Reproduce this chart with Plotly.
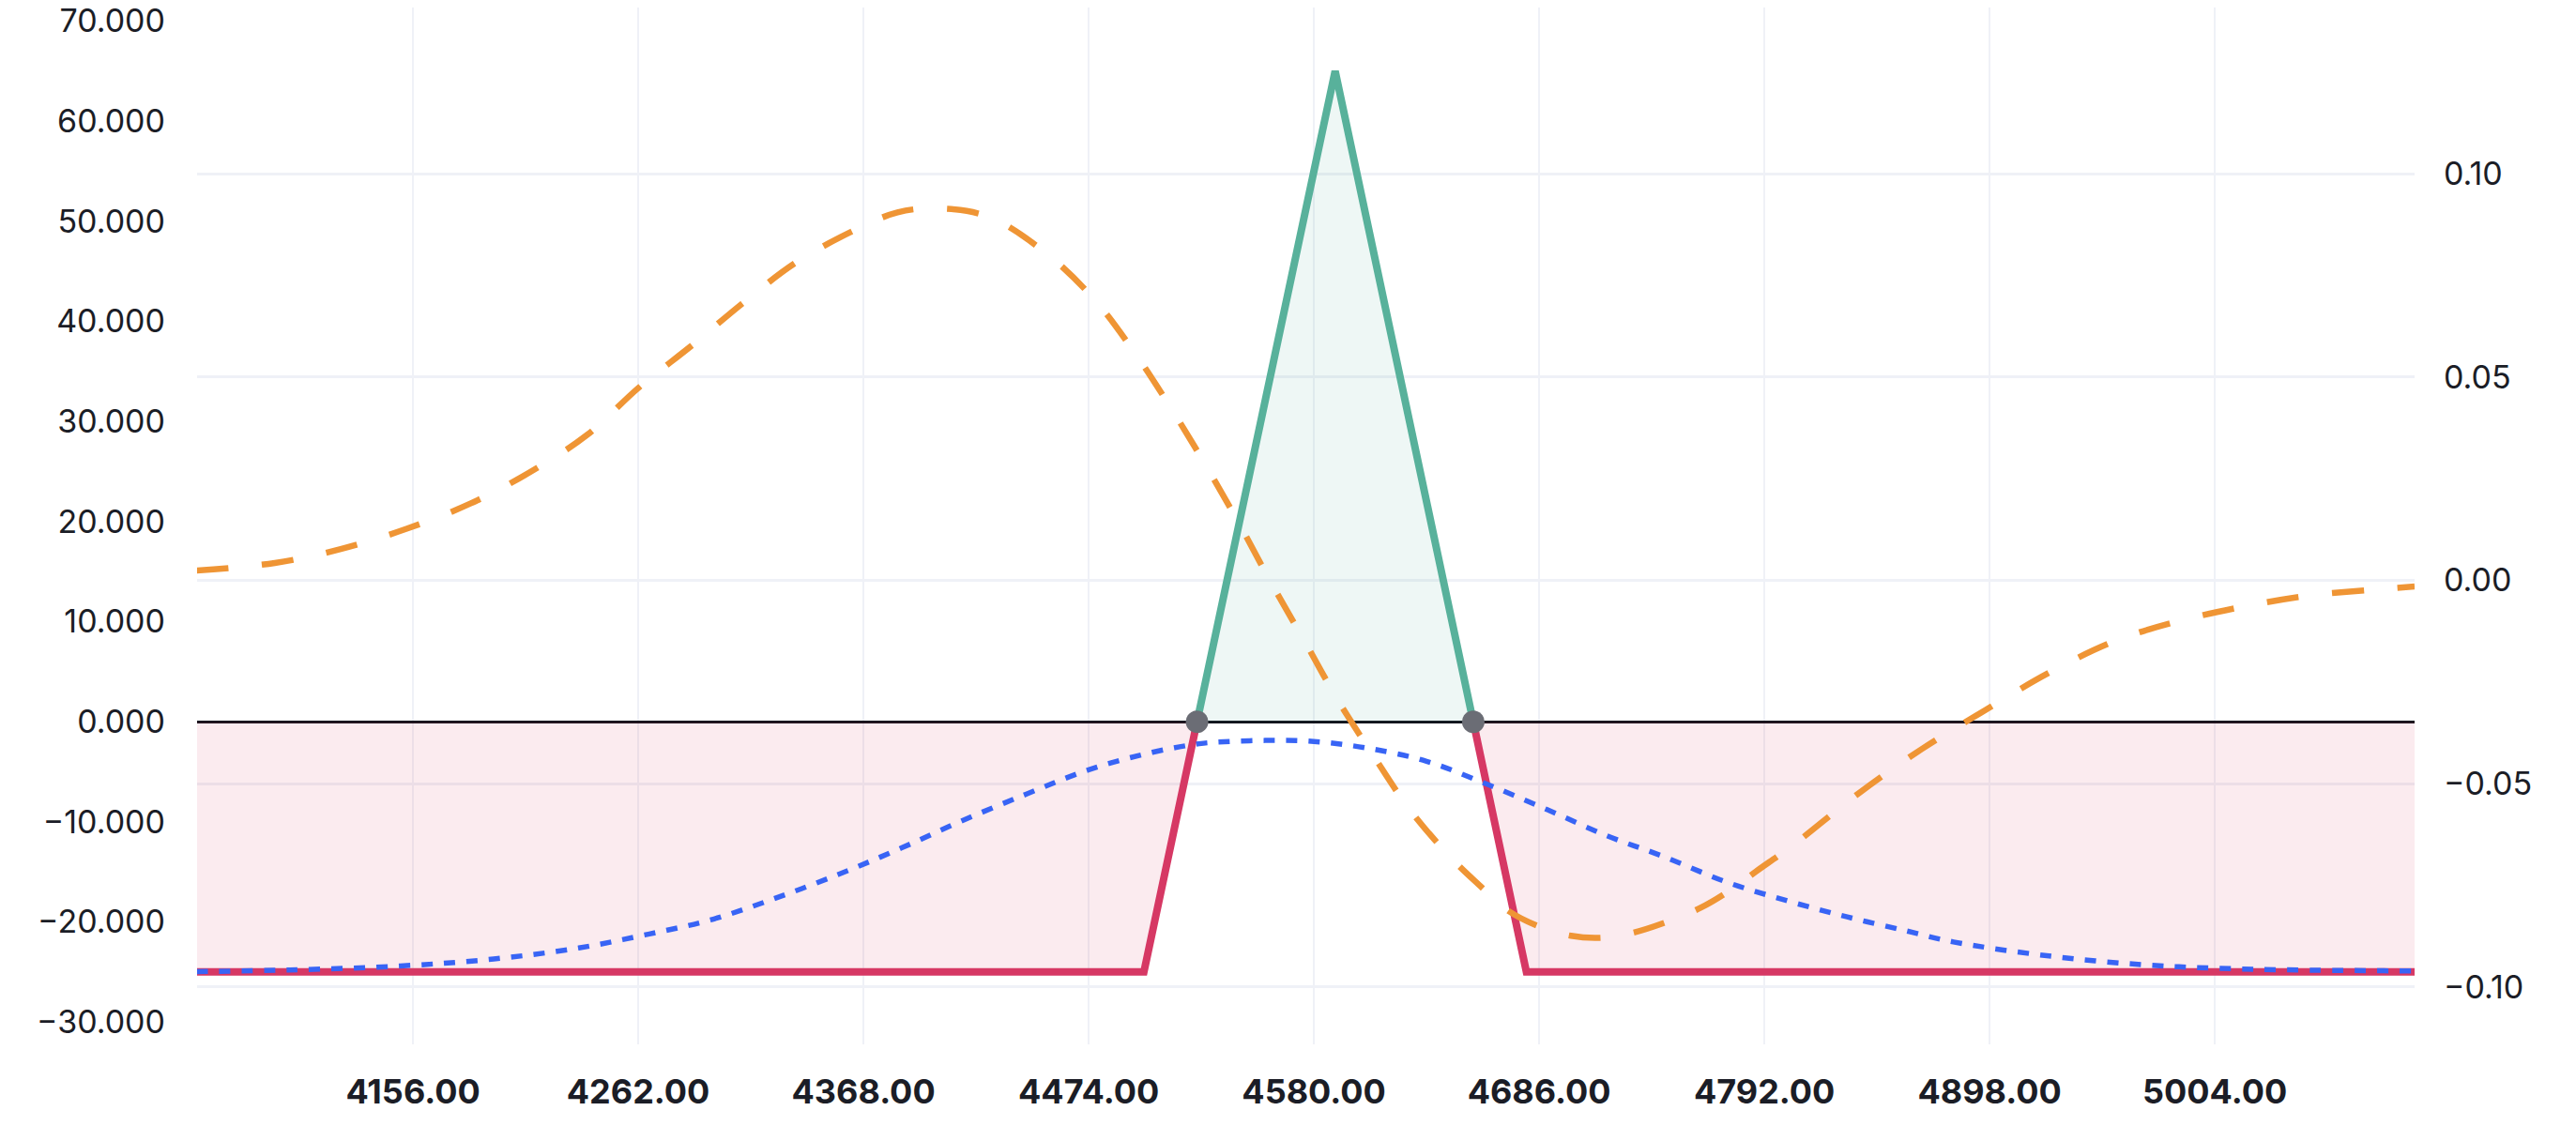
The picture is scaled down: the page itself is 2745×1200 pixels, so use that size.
import plotly.graph_objects as go

# ---- data ----
strikes = [4500, 4590, 4680]          # long butterfly strikes
net_debit = 25.0                      # premium paid
price_range = [4054.4, 5098.0]

x_ticks = [4156, 4262, 4368, 4474, 4580, 4686, 4792, 4898, 5004]
x_tick_labels = ["4156.00", "4262.00", "4368.00", "4474.00", "4580.00",
                 "4686.00", "4792.00", "4898.00", "5004.00"]
left_ticks = [-30, -20, -10, 0, 10, 20, 30, 40, 50, 60, 70]
right_ticks = [-0.10, -0.05, 0.0, 0.05, 0.10]

# T+0 P&L curve (left axis)
t0_x = [4054, 4098, 4150, 4194, 4234, 4265, 4296, 4327, 4358, 4386, 4414, 4445,
        4474, 4504, 4526, 4535, 4557, 4580, 4605, 4633, 4661, 4690, 4718, 4745,
        4774, 4803, 4831, 4859, 4881, 4926, 4972, 5017, 5098]
t0_pnl = [-24.96, -24.8, -24.4, -23.7, -22.6, -21.3, -19.8, -17.6, -15.1, -12.6, -9.93, -7.2,
          -4.8, -3.05, -2.2, -2.03, -1.87, -1.97, -2.63, -3.95, -6.2, -8.8, -11.4, -13.5,
          -16.0, -17.9, -19.5, -20.9, -22.0, -23.4, -24.3, -24.7, -24.9]

# Delta curve (right axis)
delta_x = [4054, 4091, 4122, 4153, 4183, 4211, 4238, 4262, 4288, 4311, 4336, 4364,
           4384, 4401, 4426, 4452, 4476, 4495, 4512, 4529, 4545, 4560, 4576, 4591,
           4608, 4626, 4646, 4658, 4671, 4685, 4701, 4715, 4729, 4745, 4762, 4775,
           4788, 4806, 4836, 4866, 4896, 4926, 4957, 4987, 5017, 5047, 5078, 5098]
delta_val = [0.0024, 0.0043, 0.0077, 0.0127, 0.0189, 0.0266, 0.0358, 0.0473, 0.0581, 0.0681, 0.0781, 0.0862,
             0.0905, 0.0915, 0.0896, 0.0813, 0.0695, 0.0565, 0.0430, 0.0284, 0.0138, -0.0007, -0.0153, -0.0292,
             -0.0431, -0.0570, -0.0690, -0.0750, -0.0811, -0.0849, -0.0874, -0.0879, -0.0868, -0.0842, -0.0805, -0.0765,
             -0.0716, -0.0649, -0.0525, -0.0415, -0.0319, -0.0227, -0.0149, -0.0100, -0.0065, -0.0038, -0.0023, -0.0015]

# ---- derived payoff at expiry ----
k1, k2, k3 = strikes
max_profit = (k2 - k1) - net_debit
be_low = k1 + net_debit
be_high = k3 - net_debit

loss_left_x = [price_range[0], k1, be_low]
loss_left_y = [-net_debit, -net_debit, 0]
profit_x = [be_low, k2, be_high]
profit_y = [0, max_profit, 0]
loss_right_x = [be_high, k3, price_range[1]]
loss_right_y = [0, -net_debit, -net_debit]

GREEN = "#58b19b"
RED = "#d63864"
BLUE = "#3864f5"
ORANGE = "#ef9535"
GRID = "#eff1f7"
TXT = "#1b1d26"

fig = go.Figure()

for xs, ys in [(loss_left_x, loss_left_y), (loss_right_x, loss_right_y)]:
    fig.add_trace(go.Scatter(x=xs, y=ys, mode="lines", fill="tozeroy",
                             fillcolor="rgba(214,56,100,0.10)",
                             line=dict(color=RED, width=8), showlegend=False))
fig.add_trace(go.Scatter(x=profit_x, y=profit_y, mode="lines", fill="tozeroy",
                         fillcolor="rgba(88,177,155,0.10)",
                         line=dict(color=GREEN, width=8), showlegend=False))

fig.add_trace(go.Scatter(x=t0_x, y=t0_pnl, mode="lines",
                         line=dict(color=BLUE, width=5.5, dash="12px,12px", shape="spline", smoothing=1),
                         showlegend=False))
fig.add_trace(go.Scatter(x=delta_x, y=delta_val, mode="lines", yaxis="y2",
                         line=dict(color=ORANGE, width=6.5, dash="34px,36px", shape="spline", smoothing=1),
                         showlegend=False))

fig.add_trace(go.Scatter(x=[be_low, be_high], y=[0, 0], mode="markers",
                         marker=dict(color="#6b6d75", size=24), showlegend=False))

fig.update_layout(
    width=2737, height=1192,
    margin=dict(l=202, r=172, t=0, b=87, autoexpand=False),
    paper_bgcolor="white", plot_bgcolor="white",
    font=dict(family="Inter", color=TXT),
    showlegend=False,
    xaxis=dict(range=price_range, tickvals=x_ticks, ticktext=x_tick_labels,
               showgrid=True, gridcolor=GRID, gridwidth=2, zeroline=False,
               showline=False, ticks="", ticklabelstandoff=26, automargin=False,
               tickfont=dict(family="Inter", size=36, weight="bold", color=TXT)),
    yaxis=dict(range=[-32.23, 71.35], tickvals=left_ticks, tickformat=".3f",
               showgrid=False, zeroline=True, zerolinecolor="#12141c", zerolinewidth=3,
               showline=False, ticks="", ticklabelstandoff=33, ticklabeloverflow="allow",
               automargin=False,
               tickfont=dict(family="Inter", size=34, color=TXT)),
    yaxis2=dict(range=[-0.1141, 0.1409], tickvals=right_ticks, tickformat=".2f",
                overlaying="y", side="right", showgrid=True, gridcolor=GRID, gridwidth=2.5,
                zeroline=False, showline=False, ticks="", ticklabelstandoff=30,
                ticklabeloverflow="allow", automargin=False,
                tickfont=dict(family="Inter", size=34, color=TXT)),
)

fig.write_html("out.html")
